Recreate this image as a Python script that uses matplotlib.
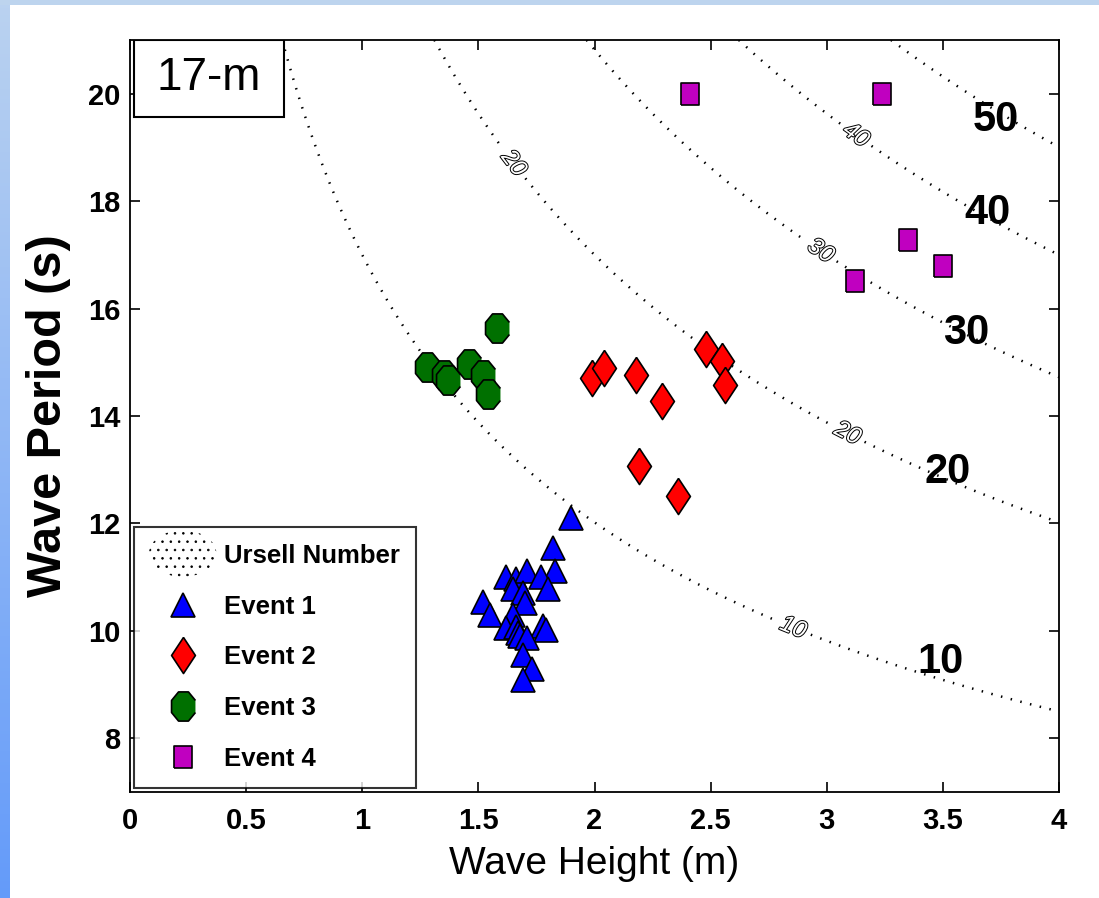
import matplotlib.pyplot as plt
import matplotlib.patheffects as pe
import numpy as np
from matplotlib.patches import Ellipse, Patch, Rectangle
from matplotlib.legend_handler import HandlerPatch

# storm events at the 17-m site: significant wave height (m) and peak period (s)
event1_h = [1.90, 1.82, 1.83, 1.62, 1.66, 1.71, 1.77, 1.80, 1.65, 1.69, 1.52, 1.55,
            1.70, 1.65, 1.62, 1.66, 1.67, 1.78, 1.79, 1.68, 1.71, 1.69, 1.73, 1.69]
event1_t = [12.10, 11.54, 11.11, 11.00, 10.96, 11.11, 11.00, 10.78, 10.78, 10.70, 10.53, 10.29,
            10.52, 10.29, 10.05, 10.07, 9.96, 10.09, 10.01, 9.90, 9.86, 9.55, 9.29, 9.08]

event2_h = [1.99, 2.04, 2.18, 2.29, 2.48, 2.55, 2.56, 2.19, 2.36]
event2_t = [14.71, 14.89, 14.76, 14.28, 15.25, 15.02, 14.58, 13.07, 12.51]

event3_h = [1.58, 1.28, 1.35, 1.37, 1.46, 1.52, 1.54]
event3_t = [15.64, 14.91, 14.76, 14.67, 14.97, 14.76, 14.41]

event4_h = [2.41, 3.24, 3.35, 3.50, 3.12]
event4_t = [20.00, 20.00, 17.28, 16.79, 16.52]

# Ursell number contours
depth = 17.0
g = 10.0
ursell_levels = [10, 20, 30, 40, 50]
inline_label_pos = [(1.33, 14.6), (2.84, 9.9), (1.62, 18.6), (3.08, 13.6),
                    (2.97, 17.05), (3.12, 19.2)]
big_label_pos = [(3.49, 9.42), (3.52, 12.96), (3.60, 15.55), (3.69, 17.78), (3.73, 19.51)]

plt.rcParams['font.family'] = ['Liberation Sans', 'DejaVu Sans']
plt.rcParams['hatch.linewidth'] = 0.6

fig = plt.figure(figsize=(10.99, 8.98), dpi=100)

# slide frame: light strip on top, blue gradient on the left
fig.patches.append(Rectangle((0, 1 - 5 / 898), 1, 5 / 898, transform=fig.transFigure,
                             facecolor='#BDD4EE', edgecolor='none', zorder=-10))
strip = fig.add_axes([0, 0, 10 / 1099, 1 - 5 / 898])
top_c = np.array([186, 210, 240]) / 255
bot_c = np.array([100, 155, 250]) / 255
grad = np.linspace(0, 1, 256)[:, None, None] * (bot_c - top_c) + top_c
strip.imshow(grad, aspect='auto', extent=(0, 1, 0, 1))
strip.axis('off')

ax = fig.add_axes([130 / 1099, 1 - 792 / 898, 929 / 1099, 752 / 898])

hh, tt = np.meshgrid(np.linspace(0.01, 4.0, 400), np.linspace(7.0, 21.0, 400))
wavelength = tt * np.sqrt(g * depth)
ursell = hh * wavelength ** 2 / depth ** 3
cs = ax.contour(hh, tt, ursell, levels=ursell_levels, colors='k', linewidths=1.8,
                linestyles=[(0, (0.6, 3.4))], zorder=1)
labels = ax.clabel(cs, fmt='%d', fontsize=17, inline=True, inline_spacing=6,
                   manual=inline_label_pos)
for lab in labels:
    lab.set_fontstyle('italic')
    lab.set_color('white')
    lab.set_path_effects([pe.Stroke(linewidth=1.4, foreground='black'), pe.Normal()])
    lab.set_zorder(2)

for lev, (x, y) in zip(ursell_levels, big_label_pos):
    ax.text(x, y, str(lev), fontsize=30, fontweight='bold', ha='center', va='center', zorder=6)

# slightly tall marker shapes
ang = np.deg2rad(22.5 + 45 * np.arange(8))
octagon = np.column_stack([np.cos(ang), 1.22 * np.sin(ang)])
tall_square = [(-0.78, -1), (0.78, -1), (0.78, 1), (-0.78, 1), (-0.78, -1)]
diamond = [(0, 1), (0.66, 0), (0, -1), (-0.66, 0), (0, 1)]

kw = dict(ls='none', mec='k', mew=1.2, zorder=5)
ax.plot(event1_h, event1_t, marker='^', ms=17, mfc='#0000FF', label='Event 1', **kw)
ax.plot(event2_h, event2_t, marker=diamond, ms=26, mfc='#FF0000', label='Event 2', **kw)
ax.plot(event3_h, event3_t, marker=octagon, ms=21, mfc='#007000', label='Event 3', **kw)
ax.plot(event4_h, event4_t, marker=tall_square, ms=16.5, mfc='#C000C0', label='Event 4', **kw)

ax.set_xlim(0, 4)
ax.set_ylim(7, 21)
ax.set_xticks(np.arange(0, 4.01, 0.5))
ax.set_xticklabels(['0', '0.5', '1', '1.5', '2', '2.5', '3', '3.5', '4'])
ax.set_yticks(np.arange(8, 21, 2))
ax.tick_params(direction='in', length=7, width=1.2, top=True, right=True)
ax.tick_params(axis='x', pad=11)
ax.tick_params(axis='y', pad=7)
for t in ax.get_xticklabels() + ax.get_yticklabels():
    t.set_fontweight('bold')
    t.set_fontsize(21)
for s in ax.spines.values():
    s.set_linewidth(1.3)

ax.set_xlabel('Wave Height (m)', fontsize=28, labelpad=8)
ax.set_ylabel('Wave Period (s)', fontsize=35, fontweight='bold', labelpad=12)

# site label box
ax.add_patch(Rectangle((0.004, 0.898), 0.162, 0.102, transform=ax.transAxes,
                       facecolor='white', edgecolor='k', lw=1.5, zorder=7))
ax.text(0.085, 0.949, '17-m', transform=ax.transAxes, fontsize=33,
        ha='center', va='center', zorder=8)


class HandlerDotEllipse(HandlerPatch):
    def create_artists(self, legend, orig_handle, xdescent, ydescent, width, height,
                       fontsize, trans):
        center = (0.5 * width - xdescent, 0.5 * height - ydescent)
        p = Ellipse(center, width=width * 1.05, height=height * 2.6)
        self.update_prop(p, orig_handle, legend)
        p.set_transform(trans)
        return [p]


ursell_handle = Patch(facecolor='white', edgecolor='black', linewidth=0, hatch='..',
                      label='Ursell Number')
handles = [ursell_handle] + ax.get_lines()[-4:]
leg = ax.legend(handles=handles, loc='lower left', borderaxespad=0.15, fancybox=False,
                prop={'weight': 'bold', 'size': 18.5}, numpoints=1,
                handlelength=2.5, handletextpad=0.35, labelspacing=1.05, borderpad=0.65,
                handler_map={Patch: HandlerDotEllipse()})
leg.get_frame().set_edgecolor('black')
leg.get_frame().set_linewidth(1.5)
leg.set_zorder(9)

fig.savefig('out.png', dpi=100)
